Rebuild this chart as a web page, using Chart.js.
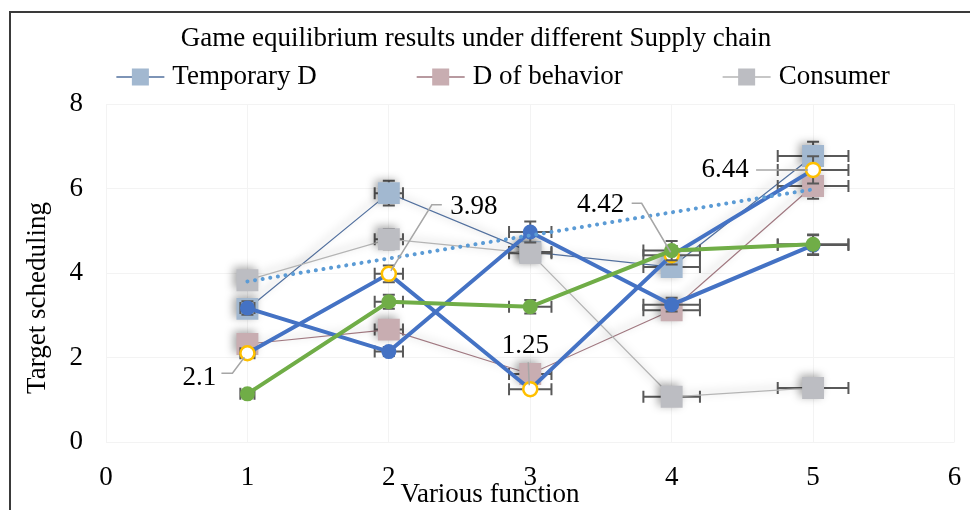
<!DOCTYPE html>
<html lang="en">
<head>
    <meta charset="UTF-8">
    <title>Game equilibrium results under different Supply chain</title>
    <script src="https://cdn.jsdelivr.net/npm/chart.js"></script>
    <style>
        body { margin: 0; background: #fff; }
        #frame {
            position: absolute;
            left: 9px;
            top: 11px;
            width: 1000px;
            height: 600px;
            border-left: 2px solid #3a3a3a;
            border-top: 2px solid #3a3a3a;
            pointer-events: none;
        }
        #chart { position: absolute; left: 0; top: 0; }
    </style>
</head>
<body>
    <canvas id="chart" width="970" height="510"></canvas>
    <div id="frame"></div>

    <script>
        // values
        const xValues = [1, 2, 3, 4, 5];
        const temporaryD = [3.15, 5.89, 4.5, 4.14, 6.77];
        const dOfBehavior = [2.32, 2.66, 1.61, 3.12, 6.06];
        const consumer = [3.83, 4.8, 4.47, 1.07, 1.28];
        const blueCircles = [3.17, 2.14, 4.97, 3.25, 4.66];
        const labelled = [2.1, 3.98, 1.25, 4.42, 6.44];
        const greenCircles = [1.14, 3.32, 3.2, 4.53, 4.68];
        const trendX = [1, 5];
        const trendY = [3.8, 5.98];
        const errorPercent = 0.05;
        const xTicks = [0, 1, 2, 3, 4, 5, 6];
        const yTicks = [0, 2, 4, 6, 8];

        const chartTitle = 'Game equilibrium results under different Supply chain';
        const xTitle = 'Various function';
        const yTitle = 'Target scheduling';

        const serif = "'Liberation Serif', 'Times New Roman', serif";
        const fontSize = 27;
        const pts = (xs, ys) => xs.map((x, i) => ({ x: x, y: ys[i] }));

        // text position of each data label, relative to its point, plus the leader line
        const labelLayout = [
            { dx: -48, dy: 25, lead: [[-26, 20], [-15, 20], [-3, 4]] },
            { dx: 85, dy: -67, lead: [[53, -69], [43, -69], [2, -3]] },
            { dx: -5, dy: -43, lead: [[-2, -27], [-1, -4]] },
            { dx: -71, dy: -50, lead: [[-40, -52], [-30, -52], [-1, -3]] },
            { dx: -88, dy: 0, lead: [[-57, 0], [-5, 0]] }
        ];

        // error bars + soft shadow, drawn per dataset
        const errorBars = {
            id: 'errorBars',
            beforeDatasetDraw(chart, args) {
                const ds = chart.data.datasets[args.index];
                const ctx = chart.ctx;
                const xs = chart.scales.x, ys = chart.scales.y;
                if (ds.errPct) {
                    ctx.save();
                    ctx.strokeStyle = '#595959';
                    ctx.lineWidth = 2;
                    ds.data.forEach(p => {
                        const cx = xs.getPixelForValue(p.x), cy = ys.getPixelForValue(p.y);
                        const x0 = xs.getPixelForValue(p.x * (1 - ds.errPct));
                        const x1 = xs.getPixelForValue(p.x * (1 + ds.errPct));
                        const y0 = ys.getPixelForValue(p.y * (1 - ds.errPct));
                        const y1 = ys.getPixelForValue(p.y * (1 + ds.errPct));
                        ctx.beginPath();
                        ctx.moveTo(x0, cy); ctx.lineTo(x1, cy);
                        ctx.moveTo(x0, cy - 6); ctx.lineTo(x0, cy + 6);
                        ctx.moveTo(x1, cy - 6); ctx.lineTo(x1, cy + 6);
                        ctx.moveTo(cx, y0); ctx.lineTo(cx, y1);
                        ctx.moveTo(cx - 6, y0); ctx.lineTo(cx + 6, y0);
                        ctx.moveTo(cx - 6, y1); ctx.lineTo(cx + 6, y1);
                        ctx.stroke();
                    });
                    ctx.restore();
                }
                if (ds.shadow) {
                    ctx.save();
                    ctx.shadowColor = 'rgba(0, 0, 0, 0.35)';
                    ctx.shadowBlur = 8;
                    ctx.shadowOffsetX = -3;
                    ctx.shadowOffsetY = -2;
                }
            },
            afterDatasetDraw(chart, args) {
                if (chart.data.datasets[args.index].shadow) chart.ctx.restore();
            }
        };

        const dataLabels = {
            id: 'dataLabels',
            afterDatasetsDraw(chart) {
                const ctx = chart.ctx;
                chart.data.datasets.forEach((ds, i) => {
                    if (!ds.showLabels) return;
                    const meta = chart.getDatasetMeta(i);
                    meta.data.forEach((el, j) => {
                        const l = labelLayout[j];
                        ctx.save();
                        ctx.strokeStyle = '#a6a6a6';
                        ctx.lineWidth = 1.5;
                        ctx.beginPath();
                        l.lead.forEach((p, k) => {
                            if (k === 0) ctx.moveTo(el.x + p[0], el.y + p[1]);
                            else ctx.lineTo(el.x + p[0], el.y + p[1]);
                        });
                        ctx.stroke();
                        ctx.fillStyle = '#000';
                        ctx.font = fontSize + 'px ' + serif;
                        ctx.textAlign = 'center';
                        ctx.textBaseline = 'middle';
                        ctx.fillText(String(ds.data[j].y), el.x + l.dx, el.y + l.dy);
                        ctx.restore();
                    });
                });
            }
        };

        // title, legend and axis titles, Excel-like placement
        const headings = {
            id: 'headings',
            afterDraw(chart) {
                const ctx = chart.ctx;
                ctx.save();
                ctx.fillStyle = '#000';
                ctx.font = fontSize + 'px ' + serif;
                ctx.textAlign = 'center';
                ctx.textBaseline = 'middle';
                ctx.fillText(chartTitle, 476, 39);
                ctx.fillText(xTitle, 490, 495);

                const items = chart.data.datasets.filter(d => d.inLegend);
                const widths = items.map(d => 56 + ctx.measureText(d.label).width);
                const total = widths.reduce((a, b) => a + b, 0) + 100 * (items.length - 1);
                let x = 503 - total / 2;
                const y = 77;
                ctx.textAlign = 'left';
                items.forEach((d, i) => {
                    ctx.strokeStyle = d.borderColor;
                    ctx.lineWidth = 1.5;
                    ctx.beginPath();
                    ctx.moveTo(x, y); ctx.lineTo(x + 48, y);
                    ctx.stroke();
                    ctx.fillStyle = d.pointBackgroundColor;
                    ctx.fillRect(x + 24 - 8.5, y - 8.5, 17, 17);
                    ctx.fillStyle = '#000';
                    ctx.fillText(d.label, x + 56, y);
                    x += widths[i] + 100;
                });

                ctx.textAlign = 'center';
                ctx.translate(38, 298);
                ctx.rotate(-Math.PI / 2);
                ctx.fillText(yTitle, 0, 0);
                ctx.restore();
            }
        };

        const squareSet = (label, values, line, fill, order) => ({
            label: label,
            data: pts(xValues, values),
            borderColor: line,
            borderWidth: 1.2,
            pointStyle: 'rect',
            pointRadius: 15.5,
            pointHoverRadius: 15.5,
            pointBackgroundColor: fill,
            pointBorderWidth: 0,
            errPct: errorPercent,
            shadow: true,
            inLegend: true,
            order: order
        });

        new Chart(document.getElementById('chart'), {
            type: 'line',
            data: {
                datasets: [
                    squareSet('Temporary D', temporaryD, '#52709e', '#a2b8d0', 7),
                    squareSet('D of behavior', dOfBehavior, '#a07880', '#c8adb1', 6),
                    squareSet('Consumer', consumer, '#b4b4b4', '#bcbdc2', 5),
                    {
                        label: 'Series 4',
                        data: pts(xValues, blueCircles),
                        borderColor: '#4472c4',
                        borderWidth: 4,
                        pointRadius: 7.5,
                        pointBackgroundColor: '#4472c4',
                        pointBorderWidth: 0,
                        errPct: errorPercent,
                        order: 4
                    },
                    {
                        label: 'Series 5',
                        data: pts(xValues, labelled),
                        borderColor: '#4472c4',
                        borderWidth: 4,
                        pointRadius: 7,
                        pointBackgroundColor: '#ffffff',
                        pointBorderColor: '#ffc000',
                        pointBorderWidth: 2.5,
                        errPct: errorPercent,
                        showLabels: true,
                        order: 3
                    },
                    {
                        label: 'Series 6',
                        data: pts(xValues, greenCircles),
                        borderColor: '#70ad47',
                        borderWidth: 4,
                        pointRadius: 7.5,
                        pointBackgroundColor: '#70ad47',
                        pointBorderWidth: 0,
                        errPct: errorPercent,
                        order: 2
                    },
                    {
                        label: 'Trend',
                        data: pts(trendX, trendY),
                        borderColor: '#5b9bd5',
                        borderWidth: 4,
                        borderDash: [0.1, 7.6],
                        borderCapStyle: 'round',
                        pointRadius: 0,
                        order: 1
                    }
                ]
            },
            options: {
                responsive: false,
                animation: false,
                devicePixelRatio: 1,
                layout: { padding: { left: 10, right: 10, top: 104, bottom: 0 } },
                plugins: {
                    legend: { display: false },
                    tooltip: { enabled: false },
                    title: { display: false }
                },
                scales: {
                    x: {
                        type: 'linear',
                        min: xTicks[0],
                        max: xTicks[xTicks.length - 1],
                        afterFit: s => { s.height = 68; s.paddingLeft = 0; s.paddingRight = 0; },
                        afterBuildTicks: s => { s.ticks = xTicks.map(v => ({ value: v })); },
                        ticks: { color: '#000', padding: 20, font: { family: serif, size: fontSize } },
                        grid: { color: '#f3f3f3', drawTicks: false },
                        border: { display: false }
                    },
                    y: {
                        min: yTicks[0],
                        max: yTicks[yTicks.length - 1],
                        afterFit: s => { s.width = 96; s.paddingTop = 0; s.paddingBottom = 0; },
                        afterBuildTicks: s => { s.ticks = yTicks.map(v => ({ value: v })); },
                        ticks: { color: '#000', padding: 23, font: { family: serif, size: fontSize } },
                        grid: { color: '#f3f3f3', drawTicks: false },
                        border: { display: false }
                    }
                }
            },
            plugins: [errorBars, dataLabels, headings]
        });
    </script>
</body>
</html>
